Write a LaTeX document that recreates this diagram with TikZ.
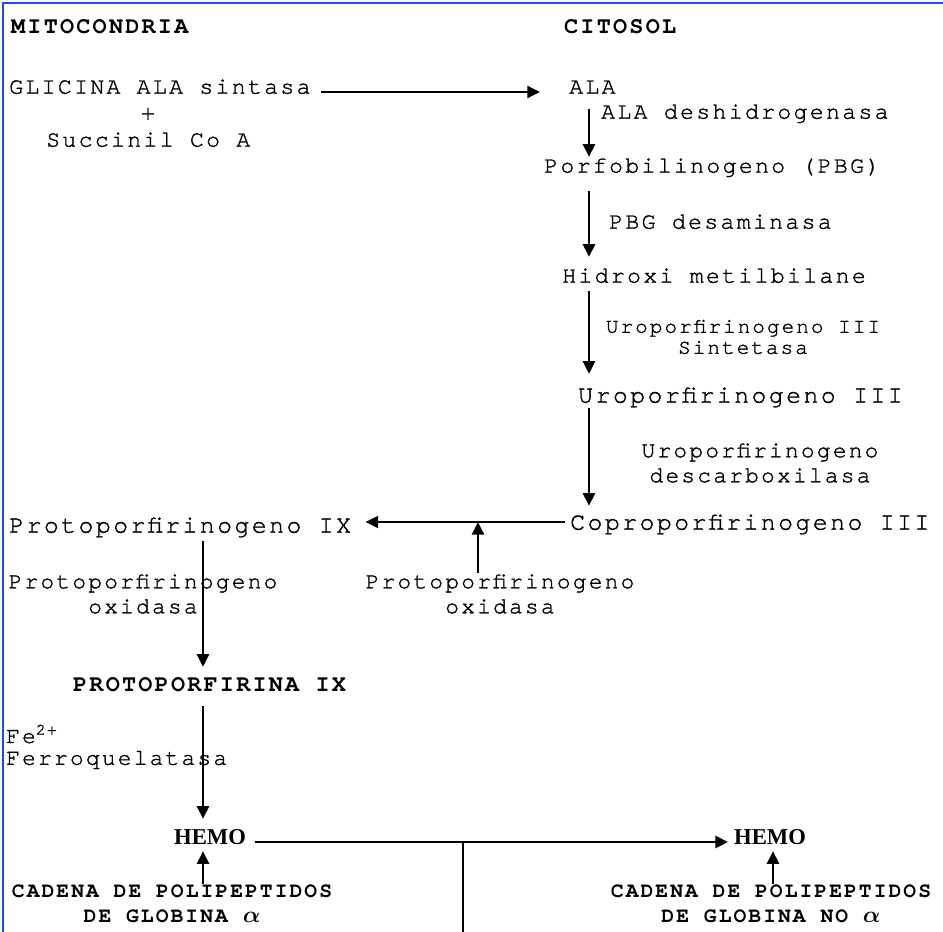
\documentclass[tikz,border=0pt]{standalone}
\usepackage{amsmath}
\usepackage{fontspec}
\usepackage{tikz}
\usetikzlibrary{arrows.meta}
\newfontfamily\mono{texgyrecursor-regular}[Extension=.otf, LetterSpace=9.5, FakeBold=1.2]
\newfontfamily\monob{texgyrecursor-bold}[Extension=.otf, LetterSpace=9.5]
\newfontfamily\serif{Liberation Serif}
\definecolor{marco}{RGB}{35,75,225}

\begin{document}
\begin{tikzpicture}[x=0.75pt,y=-0.75pt,>={Triangle[length=9.5pt,width=9pt]},line width=1.8pt]
		\tikzstyle{texto}=[inner sep=0pt, text height=10pt, text depth=0pt]
		\tikzstyle{compuesto}=[texto, anchor=west, font=\mono\fontsize{17.5}{21}\selectfont]
		\tikzstyle{compuesto grande}=[compuesto, font=\mono\fontsize{18.7}{21}\selectfont]
		\tikzstyle{enzima}=[inner sep=0pt, align=center, font=\mono\fontsize{17.2}{18.75}\selectfont]
		\tikzstyle{enzima chica}=[inner sep=0pt, align=center, font=\mono\fontsize{15.8}{15.75}\selectfont]
		\tikzstyle{titulo}=[texto, anchor=west, font=\monob\fontsize{17.6}{21}\selectfont]
		\tikzstyle{cadena}=[inner sep=0pt, align=center, font=\monob\fontsize{16}{18.75}\selectfont]
		\tikzstyle{hemo}=[texto, anchor=west, font=\serif\bfseries\fontsize{17}{21}\selectfont]
		\tikzstyle{flecha}=[->]

		\useasboundingbox (0,0) rectangle (943,932);
		\fill[white] (0,0) rectangle (943,932);
		\draw[marco, line width=1.5pt] (3,932) -- (3,3) -- (943,3);

		% mitocondria / citosol
		\node [titulo] (mito) at (10,27) {MITOCONDRIA};
		\node [titulo] (cito) at (563,27) {CITOSOL};

		\node [compuesto] (glicina) at (8,87) {GLICINA ALA sintasa};
		\node [compuesto, anchor=center] (mas) at (148,113) {+};
		\node [compuesto] (succinil) at (45,140) {Succinil Co A};

		\node [compuesto] (ala) at (568,87) {ALA};
		\node [compuesto] (aladh) at (600,112) {ALA deshidrogenasa};
		\node [compuesto] (pbg) at (543,166) {Porfobilinogeno (PBG)};
		\node [compuesto] (pbgdes) at (608,222) {PBG desaminasa};
		\node [compuesto] (hmb) at (561,276) {Hidroxi metilbilane};
		\node [enzima chica] (uros) at (743,337) {Uroporfirinogeno III\\Sintetasa};
		\node [compuesto grande] (uro) at (577,396) {Uroporfirinogeno III};
		\node [enzima] (urod) at (760,463) {Uroporfirinogeno\\descarboxilasa};
		\node [compuesto grande] (copro) at (569,523) {Coproporfirinogeno III};

		\node [compuesto grande] (protogen) at (8,526) {Protoporfirinogeno IX};
		\node [enzima] (ppox1) at (143,594) {Protoporfirinogeno\\oxidasa};
		\node [enzima] (ppox2) at (500,594) {Protoporfirinogeno\\oxidasa};
		\node [titulo] (proto) at (72,685) {PROTOPORFIRINA IX};
		\node [enzima, anchor=west] (fe) at (5,734) {Fe\textsuperscript{2+}};
		\node [enzima, anchor=west] (ferroq) at (5,760) {Ferroquelatasa};

		\node [hemo] (hemo1) at (173,838) {HEMO};
		\node [hemo] (hemo2) at (733,838) {HEMO};
		\node [cadena] (cadena1) at (172,904) {CADENA DE POLIPEPTIDOS\\DE GLOBINA $\boldsymbol{\alpha}$};
		\node [cadena] (cadena2) at (771,904) {CADENA DE POLIPEPTIDOS\\DE GLOBINA NO $\boldsymbol{\alpha}$};

		% columnas de las flechas
		\coordinate (colder) at (589,0);
		\coordinate (colizq) at (203,0);
		\coordinate (colhemo) at (773,0);
		\coordinate (nivel) at (0,92);
		\coordinate (cruce) at (478,522);
		\coordinate (union) at (463,842);
		\coordinate (rama) at (463,932);

		\draw [flecha, shorten <=6.7pt, shorten >=21pt] (glicina.east |- nivel) -- (ala.west |- nivel);
		\draw [flecha, shorten <=10.7pt, shorten >=1pt] (ala.south -| colder) -- (pbg.north -| colder);
		\draw [flecha, shorten <=13pt, shorten >=8.5pt] (pbg.south -| colder) -- (hmb.north -| colder);
		\draw [flecha, shorten <=5.5pt, shorten >=10.7pt] (hmb.south -| colder) -- (uro.north -| colder);
		\draw [flecha, shorten <=3.2pt, shorten >=7pt] (uro.south -| colder) -- (copro.north -| colder);
		\draw [flecha, shorten <=3pt, shorten >=10pt] (copro.west |- cruce) -- (protogen.east |- cruce);
		\draw [flecha] (ppox2.north -| cruce) -- (cruce);
		\draw [flecha, shorten <=5.5pt, shorten >=7.7pt] (protogen.south -| colizq) -- (proto.north -| colizq);
		\draw [flecha, shorten <=10pt, shorten >=8.5pt] (proto.south -| colizq) -- (hemo1.north -| colizq);
		\draw [flecha, shorten >=4pt] (cadena1.north -| colizq) -- (hemo1.south -| colizq);
		\draw [flecha, shorten <=6pt, shorten >=3.7pt] (hemo1.east |- union) -- (hemo2.west |- union);
		\draw (union) -- (rama);
		\draw [flecha, shorten >=4pt] (cadena2.north -| colhemo) -- (hemo2.south -| colhemo);
	\end{tikzpicture}
\end{document}
